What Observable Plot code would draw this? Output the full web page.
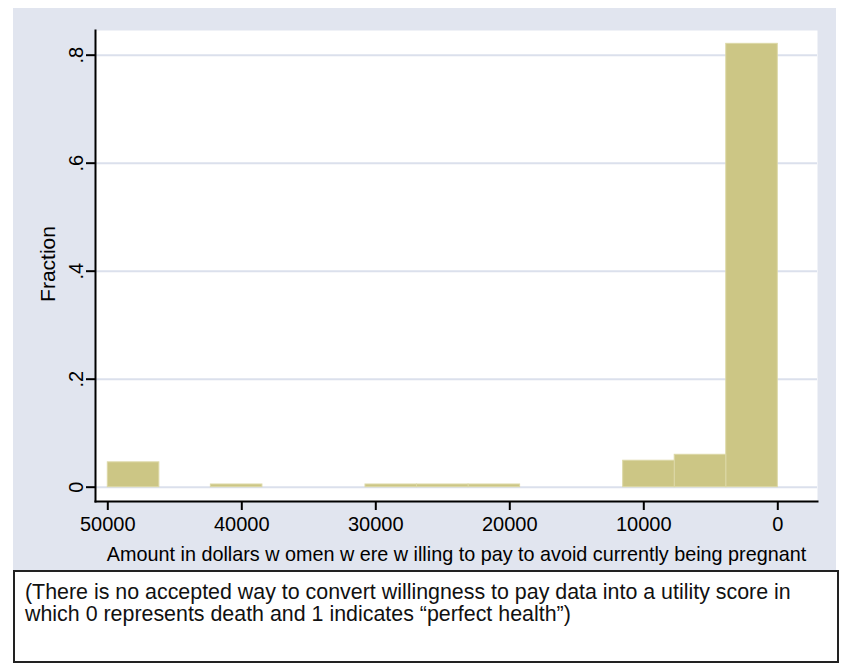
<!DOCTYPE html>
<html>
<head>
<meta charset="utf-8">
<script src="https://cdn.jsdelivr.net/npm/d3@7"></script>
<script src="https://cdn.jsdelivr.net/npm/@observablehq/plot@0.6"></script>
<style>
  html, body { margin: 0; padding: 0; background: #ffffff; }
  body { width: 849px; height: 672px; position: relative; overflow: hidden; font-family: Arial, "Liberation Sans", sans-serif; }
  #panel { position: absolute; left: 13px; top: 8px; width: 823px; height: 562px; background: #e1e5ef; }
  #panel svg { position: absolute; left: 0; top: 0; }
  #caption { position: absolute; left: 13px; top: 570px; width: 822px; height: 89px; border: 2px solid #222; background: #fff;
    font-size: 21.4px; line-height: 22px; color: #111; padding: 0; box-sizing: content-box; }
  #caption div { position: absolute; left: 10px; top: 9px; white-space: nowrap; }
</style>
</head>
<body>
<div id="panel"></div>
<div id="caption"><div>(There is no accepted way to convert willingness to pay data into a utility score in<br>which 0 represents death and 1 indicates “perfect health”)</div></div>
<script>
// Histogram bins (dollars), 13 bins from 0 to 50000
const binLow  = [0, 3846, 7692, 11538, 15385, 19231, 23077, 26923, 30769, 34615, 38462, 42308, 46154];
const binHigh = [3846, 7692, 11538, 15385, 19231, 23077, 26923, 30769, 34615, 38462, 42308, 46154, 50000];
const fraction = [0.821, 0.060, 0.049, 0, 0, 0.005, 0.005, 0.005, 0, 0, 0.005, 0, 0.046];

const xTicks = [0, 10000, 20000, 30000, 40000, 50000];
const yTicks = [0, 0.2, 0.4, 0.6, 0.8];
const yTickLabels = ["0", ".2", ".4", ".6", ".8"];
const xTitle = "Amount in dollars w omen w ere w illing to pay to avoid currently being pregnant";
const yTitle = "Fraction";

const bins = binLow.map((lo, i) => ({lo, hi: binHigh[i], f: fraction[i]})).filter(d => d.f > 0);

const font = "Arial, 'Liberation Sans', sans-serif";

const chart = Plot.plot({
  width: 823,
  height: 562,
  marginLeft: 82,
  marginRight: 19,
  marginTop: 22,
  marginBottom: 69,
  style: {background: "transparent", fontFamily: font, fontSize: "20px", color: "#000", overflow: "visible"},
  x: {domain: [-2963, 50918], reverse: true, axis: null},
  y: {domain: [-0.0265, 0.8457], axis: null},
  marks: [
    Plot.frame({fill: "white", stroke: "none"}),
    Plot.gridY(yTicks, {stroke: "#dbe0ec", strokeOpacity: 1, strokeWidth: 2}),
    Plot.rectY(bins, {x1: "lo", x2: "hi", y1: 0, y2: "f", fill: "#ccc685", stroke: "#dcd8a6", strokeWidth: 1}),
    Plot.frame({anchor: "left", stroke: "#000", strokeWidth: 2}),
    Plot.frame({anchor: "bottom", stroke: "#000", strokeWidth: 2}),
    Plot.axisX({ticks: xTicks, tickSize: 9, tickPadding: 6, tickFormat: d => String(d), strokeWidth: 2, fontSize: 20, label: null}),
    Plot.axisY({ticks: yTicks, tickSize: 9, tickPadding: 4, tickRotate: -90, tickFormat: d => yTickLabels[yTicks.indexOf(d)], strokeWidth: 2, fontSize: 20, label: null}),
    Plot.text([yTitle], {frameAnchor: "left", textAnchor: "middle", dx: -47, dy: -2, rotate: -90, fontSize: 21, fill: "#000"}),
    Plot.text([xTitle], {frameAnchor: "bottom", dy: 59, fontSize: 19.8, fill: "#000"})
  ]
});
document.getElementById("panel").appendChild(chart);
</script>
</body>
</html>
